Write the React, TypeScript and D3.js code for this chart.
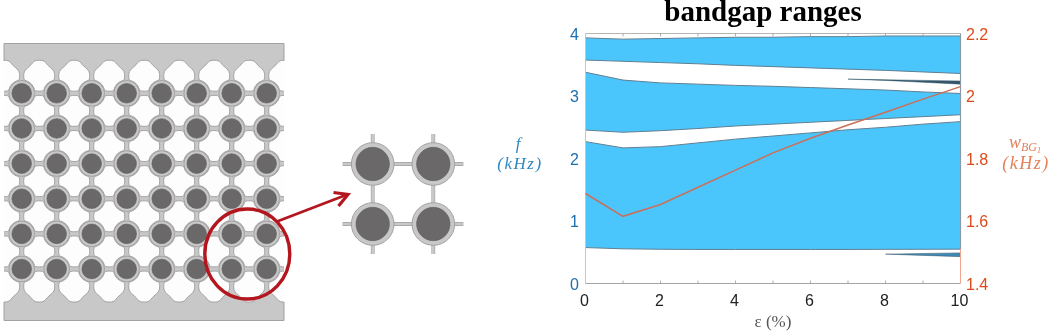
import React from "react";
import { scaleLinear, scalePoint, area, line, path as d3path } from "d3";

// strain values along the x axis
const strain = [0, 1, 2, 3, 4, 5, 6, 7, 8, 9, 10];
const xTickLabels = [0, 2, 4, 6, 8, 10];
const xMinorTicks = [1, 2, 3, 4, 5, 6, 7, 8, 9];
const leftTicks = [0, 1, 2, 3, 4];
const rightTicks = [1.4, 1.6, 1.8, 2, 2.2];

// band edges in kHz
const band1Top = [3.93, 3.91, 3.92, 3.93, 3.94, 3.94, 3.95, 3.95, 3.96, 3.96, 3.96];
const band1Bottom = [3.575, 3.555, 3.535, 3.515, 3.49, 3.47, 3.45, 3.43, 3.41, 3.385, 3.36];
const band2Top = [3.38, 3.255, 3.21, 3.19, 3.17, 3.155, 3.135, 3.115, 3.095, 3.065, 3.04];
const band2Bottom = [2.455, 2.42, 2.445, 2.48, 2.52, 2.55, 2.58, 2.61, 2.64, 2.67, 2.7];
const band3Top = [2.27, 2.17, 2.19, 2.25, 2.31, 2.36, 2.41, 2.46, 2.5, 2.55, 2.59];
const band3Bottom = [0.575, 0.555, 0.548, 0.545, 0.545, 0.545, 0.545, 0.545, 0.547, 0.548, 0.55];

// thin slivers that open up at high strain
const upperWedgeX = [7, 8, 9, 10];
const upperWedgeTop = [3.27, 3.26, 3.25, 3.24];
const upperWedgeBottom = [3.27, 3.25, 3.22, 3.19];
const lowerWedgeX = [8, 9, 10];
const lowerWedgeTop = [0.47, 0.48, 0.49];
const lowerWedgeBottom = [0.47, 0.45, 0.43];

// width of the first gap, right axis
const gapWidth = [1.688, 1.615, 1.653, 1.708, 1.763, 1.818, 1.865, 1.907, 1.948, 1.99, 2.03];

// lattice sketch, holes run one step past the cells on every side
const latticeCols = [0, 1, 2, 3, 4, 5, 6, 7];
const latticeRows = [0, 1, 2, 3, 4, 5];
const holeCols = [-1, 0, 1, 2, 3, 4, 5, 6, 7];
const holeRows = [-1, 0, 1, 2, 3, 4, 5];
const insetCols = [0, 1];
const insetRows = [0, 1];

const x = scaleLinear().domain([0, 10]).range([585.5, 960.5]);
const yLeft = scaleLinear().domain([0, 4]).range([283.5, 33.5]);
const yRight = scaleLinear().domain([1.4, 2.2]).range([283.5, 33.5]);
const colX = scaleLinear().domain([0, 7]).range([21.7, 266.7]);
const rowY = scaleLinear().domain([0, 5]).range([93.3, 269]);
const insetX = scalePoint<number>().domain(insetCols).range([372.7, 433.3]);
const insetY = scalePoint<number>().domain(insetRows).range([164, 224]);

const BLUE = "#4cc6fd";
const EDGE = "#5f7f92";
const METAL = "#c8c8c8";
const METAL_EDGE = "#a2a2a2";
const CORE = "#6a6868";

const bandArea = (xs: number[], top: number[], bottom: number[]) =>
  area<number>()
    .x((d) => x(d))
    .y0((_, i) => yLeft(bottom[i]))
    .y1((_, i) => yLeft(top[i]))(xs) as string;

const edgeLine = (xs: number[], vals: number[]) =>
  line<number>()
    .x((d) => x(d))
    .y((_, i) => yLeft(vals[i]))(xs) as string;

const bands = [
  [band1Top, band1Bottom],
  [band2Top, band2Bottom],
  [band3Top, band3Bottom],
];

// four lobed hole between the rings. Holes next to a clamp bar get an
// arch on that side instead of hugging a ring.
const holePath = (cx: number, cy: number, row: number) => {
  const p = d3path();
  const a0 = Math.atan2(3.5, -12.8);
  const a1 = Math.atan2(12.8, -3.5);
  // quadrants are walked clockwise from the top lobe
  const archStart = row === -1 ? 0 : row === 5 ? 2 : -1;
  const archEnd = row === -1 ? 3 : row === 5 ? 1 : -1;
  for (let k = 0; k < 4; k++) {
    const a = (k * Math.PI) / 2;
    const rot = (px: number, py: number): [number, number] => [
      cx + px * Math.cos(a) - py * Math.sin(a),
      cy + px * Math.sin(a) + py * Math.cos(a),
    ];
    if (k === 0) p.moveTo(...rot(0, -15.5));
    if (k === archStart) {
      p.bezierCurveTo(...rot(3, -15.5), ...rot(5, -15), ...rot(6.5, -13));
      p.bezierCurveTo(...rot(11, -7), ...rot(15.5, -7), ...rot(15.5, 0));
    } else if (k === archEnd) {
      p.bezierCurveTo(...rot(7, -15.5), ...rot(7, -11), ...rot(13, -6.5));
      p.bezierCurveTo(...rot(15, -5), ...rot(15.5, -3), ...rot(15.5, 0));
    } else {
      p.bezierCurveTo(...rot(3, -15.5), ...rot(4.5, -15), ...rot(4.7, -14));
      p.arc(...rot(17.5, -17.5), 13.27, a0 + a, a1 + a, true);
      p.bezierCurveTo(...rot(15, -4.5), ...rot(15.5, -3), ...rot(15.5, 0));
    }
  }
  p.closePath();
  return p.toString();
};

const Beam = ({ x1, y1, x2, y2, w }: { x1: number; y1: number; x2: number; y2: number; w: number }) => (
  <g>
    <line x1={x1} y1={y1} x2={x2} y2={y2} stroke={METAL_EDGE} strokeWidth={w + 1.2} />
    <line x1={x1} y1={y1} x2={x2} y2={y2} stroke={METAL} strokeWidth={w} />
  </g>
);

const Cell = ({ cx, cy, ring, core }: { cx: number; cy: number; ring: number; core: number }) => (
  <g>
    <circle cx={cx} cy={cy} r={ring} fill={METAL} stroke={METAL_EDGE} strokeWidth={1} />
    <circle cx={cx} cy={cy} r={core} fill={CORE} stroke="#5a5a5a" strokeWidth={0.6} />
  </g>
);

export default function App() {
  return (
    <svg
      width={1052}
      height={332}
      viewBox="0 0 1052 332"
      style={{ position: "absolute", left: 0, top: 0, background: "#fff" }}
    >
      <defs>
        <clipPath id="plate">
          <rect x={4} y={43.5} width={280} height={277} />
        </clipPath>
        <filter id="soft" x="0" y="0" width="100%" height="100%">
          <feGaussianBlur stdDeviation={0.45} />
        </filter>
      </defs>
      <g filter="url(#soft)">
        {/* lattice */}
        <rect x={4} y={43.5} width={280} height={277} fill={METAL} />
        <g clipPath="url(#plate)">
          {holeRows.map((r) =>
            holeCols.map((c) => (
              <path
                key={`${r}/${c}`}
                d={holePath(colX(c + 0.5), rowY(r + 0.5), r)}
                fill="#fdfdfd"
                stroke={METAL_EDGE}
                strokeWidth={1}
              />
            ))
          )}
        </g>
        <polyline points="4,61 4,43.5 284,43.5 284,61" fill="none" stroke={METAL_EDGE} strokeWidth={1} />
        <polyline points="4,302 4,320.5 284,320.5 284,302" fill="none" stroke={METAL_EDGE} strokeWidth={1} />
        {latticeRows.map((r) =>
          latticeCols.map((c) => (
            <Cell key={`${r}-${c}`} cx={colX(c)} cy={rowY(r)} ring={12.8} core={9.8} />
          ))
        )}

        {/* zoom circle and arrow */}
        <ellipse cx={247.3} cy={254} rx={42.5} ry={45} fill="none" stroke="#b3151f" strokeWidth={3.4} />
        <line x1={277} y1={221.5} x2={346} y2={195} stroke="#b3151f" strokeWidth={2.8} />
        <polyline points="333.5,192.5 348,194.5 338.5,206" fill="none" stroke="#b3151f" strokeWidth={3.2} />

        {/* unit cell */}
        <Beam x1={342.7} x2={463.3} y1={insetY(0) as number} y2={insetY(0) as number} w={2.6} />
        <Beam x1={342.7} x2={463.3} y1={insetY(1) as number} y2={insetY(1) as number} w={2.6} />
        <Beam x1={insetX(0) as number} x2={insetX(0) as number} y1={134} y2={254} w={2.6} />
        <Beam x1={insetX(1) as number} x2={insetX(1) as number} y1={134} y2={254} w={2.6} />
        {insetRows.map((r) =>
          insetCols.map((c) => (
            <Cell key={`${r}-${c}`} cx={insetX(c) as number} cy={insetY(r) as number} ring={21.3} core={16.7} />
          ))
        )}

        {/* bands */}
        {bands.map(([top, bottom], i) => (
          <g key={i}>
            <path d={bandArea(strain, top, bottom)} fill={BLUE} />
            <path d={edgeLine(strain, top)} fill="none" stroke={EDGE} strokeWidth={1} />
            <path d={edgeLine(strain, bottom)} fill="none" stroke={EDGE} strokeWidth={1} />
          </g>
        ))}
        <path d={bandArea(upperWedgeX, upperWedgeTop, upperWedgeBottom)} fill="#34566b" stroke="#34566b" strokeWidth={0.5} />
        <path d={bandArea(lowerWedgeX, lowerWedgeTop, lowerWedgeBottom)} fill="#3f89b3" stroke="#3d5a6c" strokeWidth={0.5} />

        {/* axes box */}
        <line x1={x(0)} x2={x(10)} y1={yLeft(4)} y2={yLeft(4)} stroke="#b5b5b5" strokeWidth={1.2} />
        <line x1={x(0)} x2={x(10)} y1={yLeft(0)} y2={yLeft(0)} stroke="#a5a5a5" strokeWidth={1.2} />
        <line x1={x(0)} x2={x(0)} y1={yLeft(4)} y2={yLeft(0)} stroke="#9fd0ee" strokeWidth={1} />
        <line x1={x(10)} x2={x(10)} y1={yLeft(4)} y2={yLeft(0.55)} stroke="#8a9aa5" strokeWidth={1.2} />
        <line x1={x(10)} x2={x(10)} y1={yLeft(0.55)} y2={yLeft(0)} stroke="#f0a58c" strokeWidth={1} />
        {xMinorTicks.map((t) => (
          <g key={t} stroke="#9a9a9a" strokeWidth={0.8}>
            <line x1={x(t)} x2={x(t)} y1={yLeft(4)} y2={yLeft(4) + 3} />
            <line x1={x(t)} x2={x(t)} y1={yLeft(0)} y2={yLeft(0) - 3} />
          </g>
        ))}

        {/* gap width */}
        <path
          d={
            line<number>()
              .x((d) => x(d))
              .y((_, i) => yRight(gapWidth[i]))(strain) as string
          }
          fill="none"
          stroke="#c8705a"
          strokeWidth={1.5}
        />

        {/* tick labels */}
        <g fontFamily="Liberation Sans" fontSize={16}>
          {xTickLabels.map((t) => (
            <text key={t} x={x(t) - 1} y={306} textAnchor="middle" fill="#222">
              {t}
            </text>
          ))}
          {leftTicks.map((t) => (
            <text key={t} x={579} y={yLeft(t) + 6} textAnchor="end" fill="#1f6fae">
              {t}
            </text>
          ))}
          {rightTicks.map((t) => (
            <text key={t} x={966} y={yRight(t) + 6} fill="#dd4a1c">
              {t}
            </text>
          ))}
        </g>

        {/* titles */}
        <text x={763} y={21} textAnchor="middle" fontFamily="Liberation Serif" fontWeight="bold" fontSize={29} fill="#000">
          bandgap ranges
        </text>
        <text x={773} y={327} textAnchor="middle" fontFamily="Liberation Serif" fontSize={17} fill="#555">
          ε (%)
        </text>
        <g fontFamily="Liberation Serif" fontStyle="italic" fontSize={17} fill="#2f86c0" textAnchor="middle">
          <text x={518} y={149}>f</text>
          <text x={520} y={169} letterSpacing={1.5}>(kHz)</text>
        </g>
        <g fontFamily="Liberation Serif" fontStyle="italic" fontSize={18} fill="#e4805c" textAnchor="middle">
          <text x={1025} y={148}>
            w
            <tspan fontSize={12} dy={3}>BG</tspan>
            <tspan fontSize={8} dy={2}>1</tspan>
          </text>
          <text x={1026} y={169} letterSpacing={1.5}>(kHz)</text>
        </g>
      </g>
    </svg>
  );
}
